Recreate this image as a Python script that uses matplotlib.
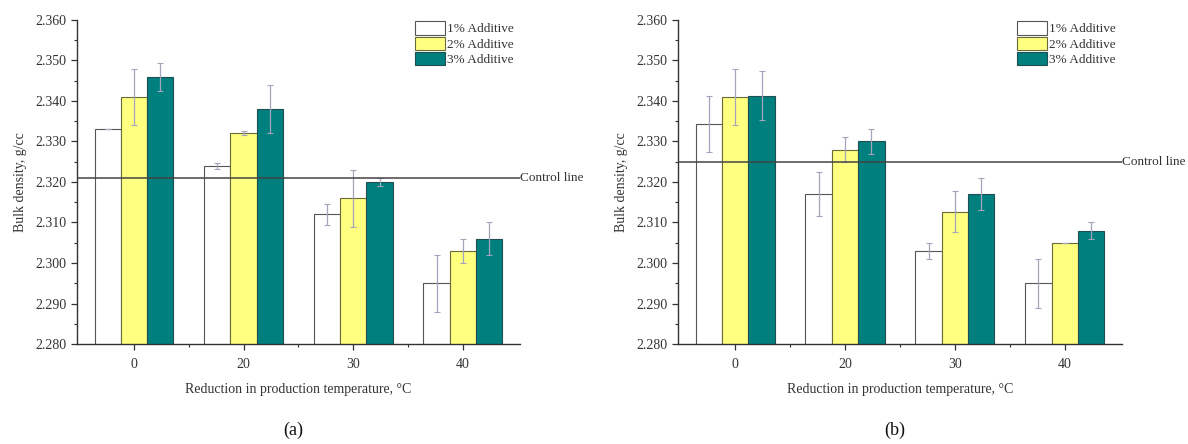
import matplotlib
matplotlib.use('Agg')
import matplotlib.pyplot as plt
import matplotlib.transforms as mtransforms
from matplotlib.ticker import MultipleLocator, FormatStrFormatter
import numpy as np

plt.rcParams['font.family'] = ['Liberation Serif', 'DejaVu Serif']

# --- Datos ---
categorias = ['0', '20', '30', '40']
series = ['1% Additive', '2% Additive', '3% Additive']

# Panel (a)
dens_a_1 = [2.333, 2.324, 2.312, 2.295]
dens_a_2 = [2.341, 2.332, 2.316, 2.303]
dens_a_3 = [2.346, 2.338, 2.320, 2.306]
err_a_1 = [0.0, 0.0008, 0.0025, 0.007]
err_a_2 = [0.007, 0.0005, 0.007, 0.003]
err_a_3 = [0.0035, 0.006, 0.001, 0.004]
control_a = 2.321

# Panel (b)
dens_b_1 = [2.3343, 2.317, 2.303, 2.295]
dens_b_2 = [2.341, 2.328, 2.3127, 2.305]
dens_b_3 = [2.3413, 2.330, 2.317, 2.308]
err_b_1 = [0.007, 0.0055, 0.002, 0.006]
err_b_2 = [0.007, 0.003, 0.005, 0.0]
err_b_3 = [0.006, 0.003, 0.004, 0.002]
control_b = 2.325

colores = ['#FFFFFF', '#FFFF80', '#007F7F']
bordes = ['#555555', '#6b6b3a', '#1f4f4f']
color_err = '#a4a4bc'
color_txt = '#333333'


def dibujar_panel(ax, valores, errores, control):
    x = np.arange(len(categorias))
    w = 0.24
    for i, (vals, errs) in enumerate(zip(valores, errores)):
        pos = x + (i - 1) * w
        ax.bar(pos, vals, width=w, color=colores[i], edgecolor=bordes[i],
               linewidth=0.8, label=series[i], zorder=2)
        ax.errorbar(pos, vals, yerr=errs, fmt='none', ecolor=color_err,
                    elinewidth=0.9, capsize=2.5, capthick=0.8, zorder=3)

    ax.axhline(control, color='#444444', linewidth=1.1, zorder=4)
    trans = mtransforms.blended_transform_factory(ax.transAxes, ax.transData)
    ax.text(1.0, control, 'Control line', transform=trans, va='center',
            ha='left', fontsize=9.5, color=color_txt)

    ax.set_ylim(2.280, 2.360)
    ax.set_xlim(-0.52, 3.52)
    ax.yaxis.set_major_locator(MultipleLocator(0.010))
    ax.yaxis.set_minor_locator(MultipleLocator(0.005))
    ax.yaxis.set_major_formatter(FormatStrFormatter('%.3f'))
    ax.set_xticks(x)
    ax.set_xticklabels(categorias)
    ax.set_xticks(x[:-1] + 0.5, minor=True)
    ax.tick_params(axis='both', which='major', labelsize=10, colors=color_txt,
                   length=4, width=0.9, direction='out')
    ax.tick_params(axis='x', which='major', pad=6)
    ax.tick_params(axis='both', which='minor', length=2.5, width=0.8,
                   colors=color_txt, direction='out')
    for s in ['top', 'right']:
        ax.spines[s].set_visible(False)
    for s in ['left', 'bottom']:
        ax.spines[s].set_color('#333333')
        ax.spines[s].set_linewidth(1.0)

    ax.set_ylabel('Bulk density, g/cc', fontsize=10, color=color_txt, labelpad=6)
    ax.set_xlabel('Reduction in production temperature, °C', fontsize=10,
                  color=color_txt, labelpad=9)
    ax.legend(loc='upper left', bbox_to_anchor=(0.745, 1.02), frameon=False,
              fontsize=9.5, handlelength=2.3, handleheight=1.15,
              labelspacing=0.1, handletextpad=0.15, borderpad=0.1,
              labelcolor=color_txt)


fig = plt.figure(figsize=(11.88, 4.44), dpi=100)
ax_a = fig.add_axes([0.0648, 0.2252, 0.3729, 0.7298])
ax_b = fig.add_axes([0.5707, 0.2252, 0.3737, 0.7298])

dibujar_panel(ax_a, [dens_a_1, dens_a_2, dens_a_3], [err_a_1, err_a_2, err_a_3], control_a)
dibujar_panel(ax_b, [dens_b_1, dens_b_2, dens_b_3], [err_b_1, err_b_2, err_b_3], control_b)

fig.text(0.247, 0.03, '(a)', ha='center', va='center', fontsize=13, color='#111111')
fig.text(0.753, 0.03, '(b)', ha='center', va='center', fontsize=13, color='#111111')

fig.savefig('out.png', dpi=100)
